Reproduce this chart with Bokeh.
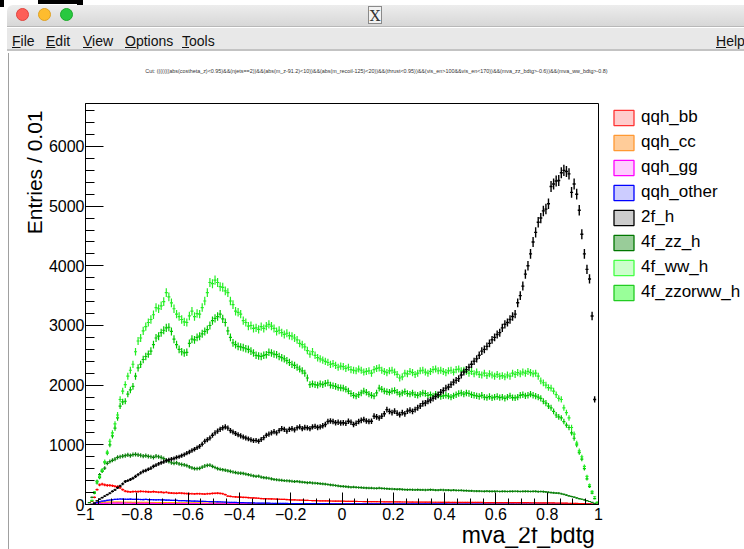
import numpy as np
from bokeh.plotting import figure
from bokeh.models import (ColumnDataSource, Range1d, FixedTicker, Legend, Label,
                          LegendItem, Div, CustomJSTickFormatter)
from bokeh.layouts import column, row
from bokeh.embed import file_html
from bokeh.resources import INLINE

# ---------------- data: histogram of mva_2f_bdtg, 200 bins from -1 to 1 ----------------
x_min = -1.0
x_max = 1.0
n_bins = 200

qqh_bb = [
    0, 0, 50, 120, 250, 330, 340, 330, 320, 320,
    315, 305, 300, 280, 250, 225, 215, 210, 215, 218,
    215, 220, 218, 215, 212, 210, 215, 210, 205, 208,
    200, 205, 195, 192, 190, 188, 192, 190, 185, 183,
    182, 180, 178, 182, 180, 178, 175, 180, 182, 185,
    188, 190, 186, 180, 165, 140, 135, 130, 128, 125,
    122, 120, 118, 115, 112, 110, 108, 105, 100, 98,
    96, 95, 93, 92, 90, 88, 86, 85, 83, 80,
    78, 76, 75, 73, 72, 70, 68, 67, 65, 64,
    63, 62, 61, 60, 60, 59, 58, 57, 56, 55,
    55, 54, 53, 52, 52, 51, 50, 50, 49, 49,
    48, 48, 47, 47, 46, 46, 45, 45, 44, 44,
    44, 43, 43, 42, 42, 42, 41, 41, 40, 40,
    40, 40, 39, 39, 39, 38, 38, 38, 37, 37,
    37, 37, 36, 36, 36, 36, 35, 35, 35, 35,
    35, 34, 34, 34, 34, 33, 33, 33, 33, 33,
    32, 32, 32, 32, 31, 31, 31, 31, 30, 30,
    30, 30, 30, 29, 29, 29, 28, 28, 28, 27,
    27, 26, 26, 25, 25, 24, 23, 22, 21, 20,
    19, 18, 16, 15, 13, 11, 9, 7, 4, 1,
]

qqh_cc = [
    0, 0, 5, 15, 25, 32, 36, 38, 40, 40,
    40, 40, 39, 39, 38, 38, 37, 37, 36, 36,
    35, 35, 35, 34, 34, 33, 33, 33, 32, 32,
    31, 31, 30, 30, 30, 29, 29, 28, 28, 28,
    27, 27, 26, 26, 26, 25, 25, 24, 24, 24,
    23, 23, 22, 22, 21, 21, 20, 20, 20, 19,
    19, 19, 18, 18, 18, 17, 17, 17, 16, 16,
    16, 15, 15, 15, 15, 14, 14, 14, 14, 13,
    13, 13, 13, 13, 12, 12, 12, 12, 12, 11,
    11, 11, 11, 11, 11, 10, 10, 10, 10, 10,
    10, 10, 9, 9, 9, 9, 9, 9, 9, 9,
    9, 8, 8, 8, 8, 8, 8, 8, 8, 8,
    8, 8, 8, 7, 7, 7, 7, 7, 7, 7,
    7, 7, 7, 7, 7, 7, 7, 6, 6, 6,
    6, 6, 6, 6, 6, 6, 6, 6, 6, 6,
    6, 6, 6, 6, 6, 5, 5, 5, 5, 5,
    5, 5, 5, 5, 5, 5, 5, 5, 5, 5,
    5, 5, 5, 5, 5, 5, 4, 4, 4, 4,
    4, 4, 4, 4, 4, 4, 3, 3, 3, 3,
    3, 3, 2, 2, 2, 2, 1, 1, 1, 0,
]

qqh_gg = [
    0, 0, 2, 6, 10, 14, 17, 19, 20, 21,
    22, 22, 23, 23, 22, 22, 21, 21, 20, 20,
    20, 19, 19, 19, 18, 18, 18, 17, 17, 17,
    16, 16, 16, 15, 15, 15, 14, 14, 14, 14,
    13, 13, 13, 13, 12, 12, 12, 12, 11, 11,
    11, 11, 11, 10, 10, 10, 10, 10, 9, 9,
    9, 9, 9, 9, 8, 8, 8, 8, 8, 8,
    8, 7, 7, 7, 7, 7, 7, 7, 7, 6,
    6, 6, 6, 6, 6, 6, 6, 6, 6, 6,
    5, 5, 5, 5, 5, 5, 5, 5, 5, 5,
    5, 5, 5, 5, 5, 5, 5, 5, 5, 5,
    5, 5, 5, 5, 5, 4, 4, 4, 4, 4,
    4, 4, 4, 4, 4, 4, 4, 4, 4, 4,
    4, 4, 4, 4, 4, 4, 4, 4, 4, 4,
    4, 4, 4, 4, 4, 4, 4, 4, 4, 4,
    4, 4, 4, 4, 4, 3, 3, 3, 3, 3,
    3, 3, 3, 3, 3, 3, 3, 3, 3, 3,
    3, 3, 3, 3, 3, 3, 3, 3, 3, 3,
    3, 3, 3, 3, 3, 3, 2, 2, 2, 2,
    2, 2, 2, 1, 1, 1, 1, 1, 0, 0,
]

qqh_other = [
    0, 0, 4, 15, 30, 45, 55, 62, 70, 75,
    80, 85, 88, 92, 90, 88, 87, 89, 86, 85,
    86, 84, 83, 85, 81, 82, 80, 79, 80, 77,
    76, 74, 72, 70, 69, 70, 66, 65, 64, 62,
    60, 58, 57, 55, 54, 52, 51, 50, 48, 47,
    46, 45, 44, 42, 40, 38, 36, 35, 34, 32,
    31, 30, 29, 28, 27, 26, 25, 24, 24, 23,
    22, 22, 21, 20, 20, 19, 19, 18, 18, 17,
    17, 16, 16, 16, 15, 15, 15, 14, 14, 14,
    14, 13, 13, 13, 13, 12, 12, 12, 12, 12,
    12, 12, 11, 11, 11, 11, 11, 11, 11, 11,
    11, 10, 10, 10, 10, 10, 10, 10, 10, 10,
    10, 10, 10, 9, 9, 9, 9, 9, 9, 9,
    9, 9, 9, 9, 9, 9, 9, 9, 9, 9,
    9, 8, 8, 8, 8, 8, 8, 8, 8, 8,
    8, 8, 8, 8, 8, 8, 8, 8, 8, 8,
    8, 8, 8, 8, 8, 8, 8, 7, 7, 7,
    7, 7, 7, 7, 7, 7, 7, 7, 7, 7,
    7, 7, 7, 6, 6, 6, 6, 6, 5, 5,
    5, 4, 4, 4, 3, 3, 2, 2, 1, 0,
]

bkg_2f_h = [
    0, 0, 0, 25, 60, 90, 115, 140, 165, 190,
    220, 245, 280, 310, 345, 385, 400, 420, 440, 470,
    500, 530, 555, 570, 590, 610, 640, 660, 680, 700,
    715, 735, 750, 760, 770, 790, 800, 820, 835, 860,
    880, 905, 925, 950, 975, 1010, 1060, 1085, 1115, 1160,
    1200, 1230, 1260, 1285, 1300, 1280, 1240, 1215, 1190, 1170,
    1150, 1130, 1115, 1100, 1085, 1070, 1075, 1060, 1090, 1120,
    1160, 1180, 1200, 1220, 1200, 1240, 1270, 1260, 1230, 1260,
    1270, 1250, 1285, 1300, 1270, 1290, 1285, 1270, 1300, 1310,
    1290, 1300, 1320, 1340, 1390, 1400, 1390, 1370, 1380, 1365,
    1370, 1360, 1395, 1380, 1340, 1360, 1390, 1410, 1425, 1400,
    1390, 1395, 1480, 1470, 1450, 1480, 1520, 1590, 1560, 1540,
    1565, 1530, 1505, 1540, 1520, 1565, 1580, 1560, 1590, 1620,
    1650, 1690, 1700, 1730, 1750, 1780, 1810, 1840, 1880, 1910,
    1950, 1970, 2010, 2050, 2080, 2110, 2170, 2220, 2260, 2300,
    2350, 2400, 2440, 2500, 2570, 2600, 2650, 2700, 2760, 2800,
    2850, 2880, 2960, 3020, 3050, 3100, 3150, 3190, 3380, 3500,
    3660, 3860, 4000, 4200, 4400, 4560, 4730, 4800, 4920, 4950,
    5040, 5330, 5370, 5420, 5430, 5560, 5600, 5580, 5540, 5230,
    5370, 5200, 4930, 4530, 4200, 3940, 3780, 3160, 1760, 0,
]

bkg_4f_zz_h = [
    0, 30, 120, 200, 390, 500, 560, 610, 690, 720,
    740, 760, 790, 800, 810, 820, 830, 820, 835, 840,
    830, 825, 810, 820, 805, 800, 790, 810, 800, 790,
    770, 740, 720, 700, 690, 700, 680, 670, 665, 650,
    630, 615, 600, 600, 605, 625, 645, 655, 660, 640,
    620, 600, 590, 583, 575, 565, 555, 545, 535, 527,
    525, 520, 510, 500, 490, 480, 470, 475, 460, 450,
    445, 440, 430, 420, 415, 410, 405, 400, 398, 395,
    390, 385, 388, 380, 375, 370, 365, 368, 360, 358,
    355, 350, 345, 340, 335, 330, 325, 318, 312, 305,
    303, 300, 295, 290, 292, 288, 285, 283, 280, 278,
    276, 275, 272, 270, 275, 270, 268, 265, 262, 260,
    258, 255, 256, 252, 250, 248, 250, 247, 245, 248,
    246, 245, 243, 245, 248, 244, 242, 240, 245, 243,
    242, 240, 238, 240, 236, 235, 238, 234, 232, 230,
    228, 226, 224, 225, 222, 220, 223, 221, 219, 220,
    222, 218, 220, 221, 218, 219, 220, 222, 219, 218,
    220, 221, 219, 218, 220, 219, 217, 218, 216, 210,
    205, 200, 196, 192, 190, 180, 170, 158, 146, 134,
    122, 110, 98, 88, 78, 65, 50, 35, 20, 5,
]

bkg_4f_ww_h = [
    0, 0, 70, 210, 390, 470, 580, 720, 880, 1060,
    1200, 1350, 1500, 1760, 1900, 2010, 2150, 2250, 2350, 2560,
    2740, 2790, 2910, 2980, 3050, 3100, 3180, 3300, 3280, 3330,
    3400, 3550, 3480, 3380, 3280, 3190, 3150, 3100, 3060, 3050,
    3160, 3240, 3150, 3200, 3190, 3300, 3410, 3550, 3720, 3700,
    3760, 3720, 3650, 3640, 3580, 3550, 3410, 3350, 3240, 3220,
    3190, 3080, 3050, 2990, 3000, 2950, 2960, 2935, 2980, 2950,
    2990, 3020, 2990, 2950, 2900, 2920, 2880, 2850, 2870, 2830,
    2820, 2790, 2760, 2700, 2680, 2640, 2580, 2520, 2560, 2500,
    2460, 2440, 2420, 2400, 2380, 2350, 2360, 2330, 2300, 2320,
    2310, 2280, 2300, 2260, 2250, 2240, 2270, 2250, 2220, 2230,
    2240, 2200, 2260, 2280, 2290, 2250, 2230, 2210, 2240, 2250,
    2220, 2180, 2120, 2140, 2200, 2190, 2230, 2210, 2180, 2200,
    2240, 2250, 2220, 2200, 2230, 2260, 2270, 2240, 2250, 2230,
    2210, 2240, 2250, 2220, 2260, 2270, 2240, 2250, 2230, 2200,
    2230, 2190, 2220, 2180, 2170, 2200, 2160, 2190, 2170, 2150,
    2180, 2150, 2160, 2140, 2170, 2150, 2200, 2180, 2210, 2190,
    2220, 2200, 2230, 2210, 2190, 2200, 2150, 2070, 2040, 2000,
    1960, 1950, 1900, 1840, 1780, 1760, 1620, 1540, 1450, 1290,
    1180, 1030, 900, 800, 640, 470, 330, 220, 130, 40,
]

bkg_4f_zzorww_h = [
    0, 0, 60, 190, 360, 450, 560, 700, 860, 1000,
    1150, 1280, 1450, 1650, 1720, 1730, 1850, 1920, 1980, 2150,
    2290, 2350, 2430, 2480, 2520, 2570, 2680, 2790, 2820, 2880,
    2920, 2960, 2970, 2900, 2770, 2680, 2600, 2560, 2540, 2550,
    2700, 2770, 2760, 2800, 2820, 2860, 2900, 2930, 3000, 3080,
    3120, 3150, 3190, 3110, 3050, 2910, 2800, 2710, 2680, 2650,
    2640, 2630, 2610, 2600, 2570, 2540, 2500, 2490, 2480, 2500,
    2510, 2550, 2540, 2520, 2510, 2480, 2460, 2440, 2410, 2380,
    2350, 2330, 2300, 2270, 2240, 2200, 2120, 2010, 2020, 2010,
    2000, 2020, 2010, 2030, 2040, 2000, 1990, 1980, 1960, 1955,
    1950, 1930, 1900, 1860, 1830, 1815, 1840, 1870, 1900, 1880,
    1850, 1830, 1815, 1870, 1950, 1930, 1900, 1890, 1880, 1900,
    1910, 1880, 1850, 1870, 1890, 1860, 1850, 1870, 1840, 1830,
    1850, 1870, 1860, 1830, 1840, 1820, 1850, 1830, 1810, 1820,
    1830, 1815, 1800, 1820, 1840, 1860, 1870, 1850, 1870, 1860,
    1840, 1830, 1820, 1810, 1830, 1800, 1790, 1810, 1787, 1800,
    1810, 1790, 1800, 1780, 1800, 1820, 1790, 1787, 1800, 1830,
    1840, 1820, 1830, 1850, 1830, 1815, 1800, 1780, 1730, 1700,
    1650, 1620, 1560, 1500, 1470, 1450, 1390, 1330, 1290, 1200,
    1110, 1000, 870, 760, 600, 430, 300, 190, 100, 30,
]

series_names = ["qqh_bb", "qqh_cc", "qqh_gg", "qqh_other",
                "2f_h", "4f_zz_h", "4f_ww_h", "4f_zzorww_h"]
series_values = [qqh_bb, qqh_cc, qqh_gg, qqh_other,
                 bkg_2f_h, bkg_4f_zz_h, bkg_4f_ww_h, bkg_4f_zzorww_h]

x_major_ticks = [-1.0, -0.8, -0.6, -0.4, -0.2, 0.0, 0.2, 0.4, 0.6, 0.8, 1.0]
y_major_ticks = [0, 1000, 2000, 3000, 4000, 5000, 6000]
y_axis_max = 6720

x_title = "mva_2f_bdtg"
y_title = "Entries / 0.01"
cut_text = ("Cut: (((((((abs(costheta_z)<0.95)&&(njets==2))&&(abs(m_z-91.2)<10))&&(abs(m_recoil-125)<20))"
            "&&(thrust<0.95))&&(vis_en>100&&vis_en<170))&&(mva_zz_bdtg>-0.6))&&(mva_ww_bdtg>-0.8)")

# ---------------- styles ----------------
line_colors = {"qqh_bb": "#ff0000", "qqh_cc": "#ff9900", "qqh_gg": "#ff00ff",
               "qqh_other": "#0000ff", "2f_h": "#000000", "4f_zz_h": "#0a800a",
               "4f_ww_h": "#22ee22", "4f_zzorww_h": "#00c800"}
fill_colors = {"qqh_bb": "#ffcccc", "qqh_cc": "#ffcc99", "qqh_gg": "#ffccff",
               "qqh_other": "#ccccff", "2f_h": "#cccccc", "4f_zz_h": "#99cc99",
               "4f_ww_h": "#ccffcc", "4f_zzorww_h": "#99ff99"}
legend_borders = {"qqh_bb": "#ff3333", "qqh_cc": "#ff9933", "qqh_gg": "#ff00ff",
                  "qqh_other": "#0000ff", "2f_h": "#000000", "4f_zz_h": "#007700",
                  "4f_ww_h": "#44ff44", "4f_zzorww_h": "#22cc22"}
draw_order = ["qqh_cc", "qqh_gg", "qqh_other", "qqh_bb",
              "4f_zz_h", "4f_zzorww_h", "4f_ww_h", "2f_h"]
FONT = "Liberation Sans"

# page geometry (pixels)
TOP_H = 80          # window chrome + canvas title strip
BODY_H = 549 - TOP_H
SIDE_W = 10         # window border strip
YT_W = 35           # strip holding the y-axis title
MAIN_W = 561        # main plot (left border 38 + frame 515 + right border 8)
LEG_W = 744 - SIDE_W - YT_W - MAIN_W
XT_H = 22           # strip holding the x-axis title
MAIN_H = BODY_H - XT_H
FRAME_RIGHT = 598   # page x of the frame's right edge
BASELINE_SHIFT = 9  # Bokeh places the alphabetic anchor this far above the drawn baseline


def blank_fig(w, h):
    f = figure(width=w, height=h, output_backend="svg", toolbar_location=None,
               x_range=Range1d(0, w), y_range=Range1d(0, h),
               x_axis_location=None, y_axis_location=None,
               min_border=0, min_border_left=0, min_border_right=0,
               min_border_top=0, min_border_bottom=0)
    f.outline_line_color = None
    f.xgrid.visible = False
    f.ygrid.visible = False
    f.background_fill_color = "white"
    f.border_fill_color = "white"
    return f


# ---------------- main figure ----------------
p = figure(width=MAIN_W, height=MAIN_H, output_backend="svg", toolbar_location=None,
           x_range=Range1d(x_min, x_max), y_range=Range1d(0, y_axis_max),
           min_border_left=38, min_border_right=MAIN_W - 38 - 515, min_border_top=103 - TOP_H,
           min_border_bottom=MAIN_H - (504 - TOP_H))
p.background_fill_color = "white"
p.border_fill_color = "white"
p.outline_line_color = "black"
p.outline_line_width = 1
p.xgrid.visible = False
p.ygrid.visible = False

bin_width = (x_max - x_min) / n_bins
centers = x_min + (np.arange(n_bins) + 0.5) * bin_width
err_scale = 1.25
vals_by_name = dict(zip(series_names, series_values))
for name in draw_order:
    v = np.array(vals_by_name[name], dtype=float)
    m = v > 0
    e = np.sqrt(v) * err_scale
    src = ColumnDataSource(dict(x=centers[m], y=v[m],
                                xl=centers[m] - bin_width * 0.6, xr=centers[m] + bin_width * 0.6,
                                lo=v[m] - e[m], hi=v[m] + e[m]))
    c = line_colors[name]
    lw = 1.4 if name == "2f_h" else 1.2
    p.segment(x0="xl", x1="xr", y0="y", y1="y", source=src, line_color=c, line_width=lw)
    p.segment(x0="x", x1="x", y0="lo", y1="hi", source=src, line_color=c, line_width=lw)

p.xaxis.ticker = FixedTicker(ticks=x_major_ticks,
                             minor_ticks=[round(-1 + 0.05 * i, 2) for i in range(41)])
p.yaxis.ticker = FixedTicker(ticks=y_major_ticks,
                             minor_ticks=list(range(0, y_axis_max, 200)))
p.xaxis.formatter = CustomJSTickFormatter(code="""
const t = Math.round(tick * 10) / 10;
if (t === 0) return "0";
return (t < 0 ? "\u2212" : "") + Math.abs(t).toString();
""")
for ax in (p.xaxis, p.yaxis):
    ax.axis_line_color = "black"
    ax.major_tick_line_color = "black"
    ax.minor_tick_line_color = "black"
    ax.major_tick_out = 0
    ax.minor_tick_out = 0
    ax.major_label_text_font = FONT
    ax.major_label_text_font_size = "16px"
    ax.major_label_text_color = "black"
p.xaxis.major_tick_in = 12
p.xaxis.minor_tick_in = 6
p.yaxis.major_tick_in = 18
p.yaxis.minor_tick_in = 9
p.xaxis.major_label_standoff = 3
p.yaxis.major_label_standoff = 1

# ---------------- y-axis title strip (text placed in the strip's own pixel space) ----------------
yt = blank_fig(YT_W, BODY_H)
yt.add_layout(Label(x=YT_W - 1 - BASELINE_SHIFT - 1, y=BODY_H - (110 - TOP_H), text=y_title,
                    angle=np.pi / 2, text_font=FONT, text_font_size="21px", text_align="right",
                    text_baseline="alphabetic", text_color="black"))

# ---------------- x-axis title strip ----------------
xt = blank_fig(MAIN_W, XT_H)
xt.add_layout(Label(x=FRAME_RIGHT - SIDE_W - YT_W + 4, y=549 - 543 + BASELINE_SHIFT,
                    text=x_title, text_font=FONT, text_font_size="23px", text_align="right",
                    text_baseline="alphabetic", text_color="black"))

# ---------------- legend strip ----------------
lg = blank_fig(LEG_W, BODY_H)
items = []
for name in series_names:
    r = lg.quad(left=[np.nan], right=[np.nan], top=[np.nan], bottom=[np.nan],
                fill_color=fill_colors[name], line_color=legend_borders[name], line_width=1.3)
    items.append(LegendItem(label=name, renderers=[r]))
item_h, item_gap = 20, 5
legend_h = 8 * item_h + 7 * item_gap
legend = Legend(items=items, location=(611 - (744 - LEG_W), BODY_H - (107 - TOP_H) - legend_h),
                orientation="vertical",
                glyph_width=25, glyph_height=19, label_height=item_h, spacing=item_gap,
                padding=0, margin=0, label_standoff=5,
                label_text_font=FONT, label_text_font_size="17px",
                label_text_color="black", label_text_baseline="middle",
                background_fill_alpha=0, border_line_alpha=0)
lg.add_layout(legend)

# ---------------- window chrome (ROOT canvas window) ----------------
chrome_html = f"""
<div style="position:relative;width:744px;height:{TOP_H}px;overflow:hidden;background:#ffffff;
            font-family:'Liberation Sans',Arial,sans-serif;">
  <div style="position:absolute;left:0;top:0;width:4px;height:7px;background:#000"></div>
  <div style="position:absolute;left:38px;top:0;width:40px;height:4px;background:#000"></div>
  <div style="position:absolute;left:77px;top:0;width:6px;height:6px;background:#000"></div>
  <div style="position:absolute;left:7px;top:5px;width:737px;height:22px;
              background:linear-gradient(#ededed,#d7d7d7);border-top-left-radius:6px;
              border-bottom:1px solid #b8b8b8;"></div>
  <div style="position:absolute;left:16px;top:8px;width:13px;height:13px;border-radius:50%;
              background:#fe5f57;border:0.5px solid #e0443e;"></div>
  <div style="position:absolute;left:38px;top:8px;width:13px;height:13px;border-radius:50%;
              background:#febc2e;border:0.5px solid #dea123;"></div>
  <div style="position:absolute;left:60px;top:8px;width:13px;height:13px;border-radius:50%;
              background:#28c840;border:0.5px solid #1aab29;"></div>
  <div style="position:absolute;left:368px;top:6px;width:14px;height:18px;background:#f2f2f2;
              border:1px solid #8a8a8a;font-family:'DejaVu Serif',serif;font-size:15px;
              line-height:18px;text-align:center;color:#333;">X</div>
  <div style="position:absolute;left:7px;top:28px;width:737px;height:23px;background:#e8e8e8;
              border-bottom:2px solid #c3c3c3;"></div>
  <div style="position:absolute;left:12px;top:31px;font-size:14px;color:#111;white-space:nowrap;">
    <span style="position:absolute;left:0px;"><u>F</u>ile</span>
    <span style="position:absolute;left:34px;"><u>E</u>dit</span>
    <span style="position:absolute;left:71px;"><u>V</u>iew</span>
    <span style="position:absolute;left:113px;"><u>O</u>ptions</span>
    <span style="position:absolute;left:170px;"><u>T</u>ools</span>
  </div>
  <div style="position:absolute;left:716px;top:31px;font-size:14px;color:#111;"><u>H</u>elp</div>
  <div style="position:absolute;left:8px;top:53px;width:1px;height:{TOP_H - 53}px;background:#a0a0a0"></div>
  <div style="position:absolute;left:9px;top:68px;width:735px;text-align:center;white-space:nowrap;
              font-size:5.4px;line-height:7px;color:#333;">{cut_text}</div>
</div>
"""
top_div = Div(text=chrome_html, width=744, height=TOP_H, margin=0)
side_div = Div(text=f"""<div style="position:relative;width:{SIDE_W}px;height:{BODY_H}px;background:#fff;">
  <div style="position:absolute;left:8px;top:0;width:1px;height:{BODY_H}px;background:#a0a0a0"></div>
</div>""", width=SIDE_W, height=BODY_H, margin=0)

layout = column(top_div,
                row(side_div, yt, column(p, xt, spacing=0), lg, spacing=0),
                spacing=0)
open("out.html", "w").write(file_html(layout, INLINE))
